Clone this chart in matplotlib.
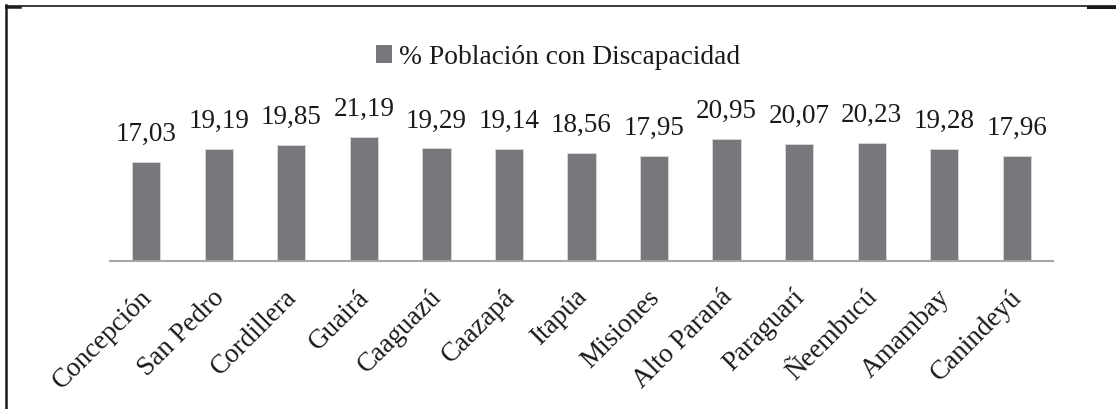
import matplotlib
matplotlib.use("Agg")
import matplotlib.pyplot as plt
from matplotlib.lines import Line2D
from matplotlib.patches import Patch
from matplotlib.transforms import ScaledTranslation

categories = ["Concepción", "San Pedro", "Cordillera", "Guairá", "Caaguazú", "Caazapá",
              "Itapúa", "Misiones", "Alto Paraná", "Paraguarí", "Ñeembucú", "Amambay", "Canindeyú"]
values = [17.03, 19.19, 19.85, 21.19, 19.29, 19.14, 18.56, 17.95, 20.95, 20.07, 20.23, 19.28, 17.96]
series_name = "% Población con Discapacidad"

W, H = 1116, 409
fig = plt.figure(figsize=(W / 100, H / 100), dpi=100)
serif = ["Liberation Serif", "DejaVu Serif"]
bar_color = "#77787b"
text_color = "#1a1a1a"

# axes: x from 110 to 1053 px, baseline at y=261.3 px, 5.85 px per unit
ymax = 25
left, right = 110, 1053
base = 261.3
k = 5.85
ax = fig.add_axes([left / W, (H - base) / H, (right - left) / W, ymax * k / H])
x = list(range(len(categories)))
ax.bar(x, values, width=0.39, color=bar_color, edgecolor="#d9d9d9", linewidth=0.6, zorder=2)
ax.set_xlim(-0.5, len(categories) - 0.5)
ax.set_ylim(0, ymax)
for s in ["top", "right", "left"]:
    ax.spines[s].set_visible(False)
ax.spines["bottom"].set_color("#a6a6a6")
ax.spines["bottom"].set_linewidth(1.5)
ax.set_yticks([])
ax.set_xticks(x)
ax.set_xticklabels(categories, rotation=45, ha="right", rotation_mode="anchor",
                   family=serif, fontsize=19.5, color=text_color)
ax.tick_params(axis="x", length=0, pad=17)
shift = ScaledTranslation(-7 / 100, 0, fig.dpi_scale_trans)
for lab in ax.get_xticklabels():
    lab.set_transform(lab.get_transform() + shift)

for xi, v in zip(x, values):
    ax.annotate(f"{v:.2f}".replace(".", ","), (xi, v), xytext=(0, 10.8), textcoords="offset points",
                ha="center", va="bottom", family=serif, fontsize=19.5, color=text_color)

# legend
handle = Patch(facecolor=bar_color, edgecolor="none")
fig.legend([handle], [series_name], loc="center", bbox_to_anchor=(558 / W, 1 - 57 / H),
           frameon=False, prop={"family": serif, "size": 19.8}, handlelength=0.6,
           handleheight=0.6, handletextpad=0.25, labelcolor=text_color)

# frame lines
fig.add_artist(Line2D([6 / W, 6 / W], [0, 1 - 5 / H], color="#1a1a1a", linewidth=1.8))
fig.add_artist(Line2D([6 / W, 1], [1 - 6 / H, 1 - 6 / H], color="#1a1a1a", linewidth=1.2))
fig.add_artist(Line2D([6 / W, 20 / W], [1 - 6.5 / H, 1 - 6.5 / H], color="#1a1a1a", linewidth=1.8))
fig.add_artist(Line2D([1088 / W, 1], [1 - 6.5 / H, 1 - 6.5 / H], color="#1a1a1a", linewidth=2.2))

fig.savefig("out.png", dpi=100, facecolor="white")
